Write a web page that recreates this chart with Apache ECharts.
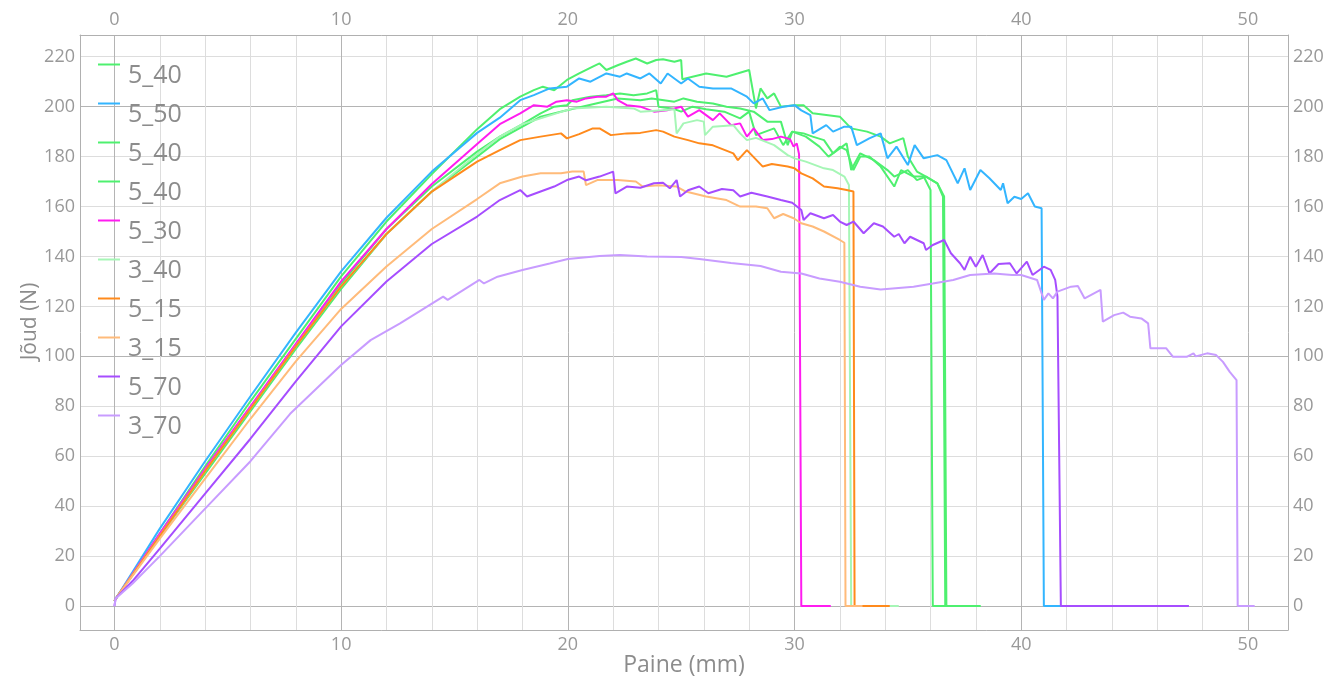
<!DOCTYPE html>
<html>
<head>
<meta charset="utf-8">
<script src="https://cdn.jsdelivr.net/npm/echarts@6/dist/echarts.min.js"></script>
<style>
html, body { margin: 0; padding: 0; background: #fff; }
#chart { width: 1343px; height: 679px; }
</style>
</head>
<body>
<div id="chart"></div>
<script>
// legend labels and colours, in drawing order
var labels = ['5_40', '5_50', '5_40', '5_40', '5_30', '3_40', '5_15', '3_15', '5_70', '3_70'];
var colors = ['#4ef06f', '#33b5ff', '#4ef06f', '#4ef06f', '#ff1cf0', '#a6f6b6', '#ff8a1c', '#ffbb7a', '#a64dff', '#c89cff'];

// tick values
var xMajor = [0, 10, 20, 30, 40, 50];
var xMinor = [0, 2, 4, 6, 8, 10, 12, 14, 16, 18, 20, 22, 24, 26, 28, 30, 32, 34, 36, 38, 40, 42, 44, 46, 48, 50];
var yTicks = [0, 20, 40, 60, 80, 100, 120, 140, 160, 180, 200, 220];

// curves: [Paine (mm), Jõud (N)]
var s540a = [[0,2],[0.1,3.5],[2,29],[4,56],[6,82],[8,107],[10,132],[12,154],[14,173],[16,191],[17,199],[17.9,204],[18.5,206.6],[18.9,208],[19.4,206.6],[19.96,210.7],[20.5,213.3],[21.1,216],[21.4,217.3],[21.7,214.7],[22.2,216.6],[22.6,218],[23.0,219.3],[23.5,217.3],[23.9,218.7],[24.2,219],[24.7,218],[25.0,218.7],[25.05,211],[25.5,212],[26.1,213.3],[27.0,212],[28.0,214.7],[28.3,199.3],[28.5,207.3],[28.8,203.3],[29.1,205.3],[29.4,200],[30.0,200.6],[30.4,200.6],[30.8,197.4],[32.0,196],[32.5,191.3],[33.2,190],[33.8,188],[34.2,185.3],[34.8,187.4],[35.0,180],[35.4,174],[35.8,172],[36.3,169.3],[36.6,164],[36.7,0],[38.2,0]];
var s550 = [[0,2],[0.1,3.5],[2,31],[4,58],[6,84],[8,109.5],[10,134],[12,155.5],[14,174],[16,189.5],[17,195.6],[17.9,202.6],[18.5,204.6],[19.2,207.3],[19.96,208],[20.5,211.3],[21.0,210],[21.7,213.3],[22.3,212],[22.6,213.3],[23.2,211.3],[23.6,213.3],[24.1,209.3],[24.4,213.3],[25.0,209.3],[25.3,211.3],[25.8,208],[26.4,207.3],[27.2,207.3],[27.9,204],[28.2,201.3],[28.6,203.3],[28.9,198.6],[29.5,200],[30.0,200.6],[30.3,198.5],[30.7,196.6],[30.8,189.3],[31.4,192.6],[31.7,190],[32.2,192],[32.5,192],[32.75,184.6],[33.3,187.3],[33.8,189.3],[34.1,179.3],[34.5,184],[35.0,176.6],[35.3,184.6],[35.7,179.3],[36.3,180.6],[36.7,178.6],[37.2,169.3],[37.5,175.3],[37.75,166.6],[38.2,174.6],[38.6,171.3],[39.1,166.6],[39.2,169.3],[39.4,161.3],[39.7,163.9],[40.0,163],[40.3,165.3],[40.6,160],[40.9,159.3],[41.0,0],[42.5,0]];
var s540b = [[0,2],[0.1,3.5],[2,28],[4,54],[6,79],[8,104],[10,129],[12,151],[14,168],[16,182],[17,188],[18,193],[18.8,197.3],[19.4,200],[19.96,200.6],[20.2,202.6],[21.0,204],[21.7,204.6],[22.3,205.3],[22.9,204.6],[23.5,205.3],[23.9,206.6],[24.0,200],[24.6,199.3],[25.0,198],[25.5,200],[26.1,199],[26.9,198],[27.6,195.3],[28.0,198],[28.3,188.6],[29.1,191.3],[29.5,184.6],[29.9,190],[30.4,189.3],[30.8,188],[31.3,186.6],[31.7,181.3],[32.0,184],[32.3,182.6],[32.6,174.6],[32.9,180],[33.3,180],[33.8,176],[34.4,168],[34.7,174.6],[35.25,172],[35.7,172],[36.0,166.6],[36.1,0],[38.2,0]];
var s540c = [[0,2],[0.1,3.5],[2,28],[4,53],[6,78],[8,103],[10,127],[12,149],[14,166],[16,180],[17,187],[18,192],[18.8,196],[19.96,198.6],[21.1,201],[22.2,203.3],[23.2,202.6],[23.7,203.3],[24.7,202],[25.1,203.3],[25.7,202],[26.4,201.3],[27.0,200],[27.6,199.3],[28.2,198],[28.8,194],[29.4,194],[29.7,184.6],[29.9,190],[30.5,188],[31.1,184],[31.5,180],[32.3,185.3],[32.5,174.6],[32.9,181.3],[33.5,178.6],[34.1,174.6],[34.4,172],[35.0,174.6],[35.4,170.6],[35.8,172],[36.3,169.3],[36.55,164],[36.65,0],[38.2,0]];
var s530 = [[0,2],[0.1,3.5],[2,29],[4,55],[6,80],[8,105],[10,130],[12,151],[14,169],[16,185],[17,193],[17.9,197.3],[18.5,200.6],[19.1,200],[19.5,202],[19.96,202.6],[20.4,202],[20.8,203.3],[21.3,204],[21.7,204],[22.0,205.3],[22.2,202.6],[22.6,200.6],[23.2,200],[23.8,198],[24.4,198.6],[25.0,200],[25.3,196],[25.8,198.6],[26.4,194.6],[26.7,197.3],[27.2,192.6],[27.6,193.3],[27.9,188],[28.2,191.3],[28.6,186.6],[29.0,187],[29.4,188],[29.8,187],[29.96,184],[30.1,185.3],[30.2,181],[30.3,0],[31.6,0]];
var s340 = [[0,2],[0.1,3.5],[2,28],[4,54],[6,79],[8,104],[10,128],[12,149],[14,166],[16,181],[17,188],[18,193],[18.8,195.3],[20.2,199.3],[21.7,200],[22.9,199.3],[23.2,198],[24.2,198.6],[24.7,199],[24.8,189.3],[25.1,193.3],[25.7,194.6],[26.0,194],[26.05,188.6],[26.4,192],[27.3,192.6],[27.6,189.3],[27.9,186.6],[28.3,187.5],[29.1,184.6],[29.7,180.6],[30.0,179.3],[30.5,178],[31.3,175.3],[31.7,174.6],[32.2,172],[32.4,168.6],[32.5,0],[34.6,0]];
var s515 = [[0,2],[0.1,3.5],[2,28],[4,54],[6,79],[8,104],[10,128],[12,149],[14,166],[16,178],[17,182.6],[17.9,186.6],[18.8,188],[19.7,189.3],[19.96,187.3],[20.5,189],[21.1,191.3],[21.4,191.3],[21.9,188.6],[22.6,189.3],[23.2,189.5],[23.9,190.6],[24.2,190],[24.7,188],[25.3,186.6],[25.8,185.3],[26.4,184.5],[27.3,181.3],[27.5,178.6],[27.9,182.6],[28.6,176],[29.0,177],[29.7,176],[30.0,175.3],[30.3,173.3],[30.8,171.3],[31.3,168],[31.9,167.3],[32.3,166.6],[32.6,166],[32.65,0],[34.2,0]];
var s315 = [[0,2],[0.1,3.5],[2,27],[4,51],[6,75],[8,98],[10,119],[12,136],[14,151],[16,163],[17,169.3],[18,172],[18.8,173.3],[19.7,173.3],[20.2,174],[20.7,174],[20.8,168.6],[21.3,170.6],[22.2,170.6],[23.0,170],[23.3,168],[24.0,168.5],[24.8,168],[25.2,166],[26.1,164],[27.0,162.6],[27.6,160],[28.3,160],[28.8,159.3],[29.1,155.3],[29.5,157],[29.96,155.3],[30.3,153.3],[30.8,152],[31.3,150],[32.0,146.6],[32.2,145.5],[32.25,0],[33.0,0]];
var s570 = [[0,0],[0.05,3],[0.8,10],[2,23],[4,45],[6,67],[8,90],[10,112],[12,130],[14,145],[16,156],[17,162.6],[17.9,166.6],[18.2,164],[18.8,166],[19.4,168],[19.96,170.6],[20.5,172],[20.8,170.5],[21.4,172],[22.0,174],[22.1,165.3],[22.6,168],[23.2,167.5],[23.8,169.3],[24.2,169.5],[24.5,167.3],[24.8,170.6],[24.95,164],[25.3,166.5],[25.8,168],[26.2,165.3],[26.8,167],[27.3,166.5],[27.6,164],[28.1,165.5],[28.8,164],[29.4,162.6],[29.9,161.5],[30.3,158.6],[30.4,154.6],[30.7,157.3],[31.3,155.3],[31.7,156.6],[32.0,154],[32.3,152.6],[32.6,154],[33.05,149.3],[33.5,153.3],[33.9,152],[34.4,147.9],[34.6,149],[34.85,145.3],[35.1,147.9],[35.7,145.3],[35.8,142.6],[36.1,144.6],[36.6,146.6],[36.9,141.3],[37.3,137.3],[37.5,134.6],[37.75,139.9],[38.0,135.9],[38.3,140.6],[38.6,133.2],[39.0,137],[39.5,137.3],[39.8,133.2],[40.25,137.9],[40.5,132.6],[41.0,135.9],[41.3,134.6],[41.5,130.6],[41.6,123.9],[41.75,0],[47.4,0]];
var s370 = [[0,0],[0.05,3],[0.8,9],[2,20],[4,39],[6,58],[7.75,77],[10,96.5],[11.3,106.5],[12.6,113.2],[14.5,123.9],[14.7,122.6],[16.1,130.6],[16.3,129.2],[16.9,131.9],[18.0,134.6],[19.2,137.2],[20.0,139],[21.4,140.2],[22.3,140.6],[23.5,140],[25.0,139.8],[25.8,139],[27.2,137.4],[28.5,136.2],[29.4,133.9],[30.3,133.2],[31.1,131.2],[32.0,129.9],[32.9,127.9],[33.8,126.8],[35.25,127.9],[36.1,129.2],[37.0,130.6],[37.75,132.6],[38.8,133.2],[39.6,132.6],[40.0,132.6],[40.7,130.6],[40.8,127.9],[41.0,122.6],[41.2,125.2],[41.4,123.2],[41.6,125.9],[42.2,127.9],[42.5,128.2],[42.8,123.2],[43.5,126.6],[43.6,113.9],[44.1,116.5],[44.5,117.5],[44.8,115.9],[45.3,115.2],[45.6,113.2],[45.7,103.2],[46.4,103.2],[46.7,99.8],[47.3,99.8],[47.6,101.2],[47.7,100],[48.2,101.2],[48.6,100.5],[48.9,97.8],[49.2,93.8],[49.5,90.5],[49.55,0],[50.3,0]];

var curves = [s540a, s550, s540b, s540c, s530, s340, s515, s315, s570, s370];

var font = '"Open Sans", "DejaVu Sans", sans-serif';
var axisColor = '#b0b0b0';
var gridColors = ['#b4b4b4', '#dddddd', '#dddddd', '#dddddd', '#dddddd'];
var tickFont = { fontSize: 18, color: '#999', fontFamily: font };

var myChart = echarts.init(document.getElementById('chart'));
var series_arr = [];
var legend_arr = [];
for (var i = 0; i < curves.length; i++) {
	// names must differ or the legend merges the three 5_40 rows
	var nm = labels[i] + '#' + i;
	legend_arr.push(nm);
	series_arr.push({
		name: nm,
		type: 'line',
		xAxisIndex: 0,
		yAxisIndex: 0,
		symbol: 'none',
		animation: false,
		lineStyle: { width: 2, color: colors[i] },
		itemStyle: { color: colors[i] },
		data: curves[i]
	});
}

var option = {
	backgroundColor: '#fff',
	textStyle: { fontFamily: font },
	grid: {
		left: 80,
		right: 55,
		top: 35,
		bottom: 49,
		containLabel: false,
		outerBoundsMode: 'none'
	},
	legend: {
		data: legend_arr,
		orient: 'vertical',
		left: 98,
		top: 41,
		padding: 0,
		itemGap: -8,
		itemWidth: 22,
		itemHeight: 2,
		icon: 'rect',
		formatter: function (name) { return '{t|' + name.split('#')[0] + '}'; },
		textStyle: {
			fontFamily: font,
			color: '#8c8c8c',
			rich: {
				t: {
					fontFamily: font,
					fontSize: 25,
					lineHeight: 26,
					color: '#8c8c8c',
					padding: [22, 0, 0, 3]
				}
			}
		}
	},
	xAxis: [{
		type: 'value',
		position: 'bottom',
		min: -1.52,
		max: 51.77,
		name: 'Paine (mm)',
		nameLocation: 'middle',
		nameGap: 24,
		nameMoveOverlap: false,
		nameTextStyle: { fontFamily: font, fontSize: 23, color: '#8c8c8c' },
		axisLine: { show: true, onZero: false, lineStyle: { color: axisColor } },
		axisTick: { show: false, customValues: xMinor },
		axisLabel: Object.assign({ customValues: xMajor, margin: 6 }, tickFont),
		splitLine: { show: true, lineStyle: { color: gridColors, width: 1 } }
	}, {
		type: 'value',
		position: 'top',
		min: -1.52,
		max: 51.77,
		axisLine: { show: true, onZero: false, lineStyle: { color: axisColor } },
		axisTick: { show: false },
		axisLabel: Object.assign({ customValues: xMajor, margin: 6 }, tickFont),
		splitLine: { show: false }
	}],
	yAxis: [{
		type: 'value',
		position: 'left',
		min: -9.6,
		max: 228.7,
		name: 'Jõud (N)',
		nameLocation: 'middle',
		nameGap: 39,
		nameMoveOverlap: false,
		nameTextStyle: { fontFamily: font, fontSize: 21, color: '#8c8c8c', padding: [0, 0, 0, 22] },
		axisLine: { show: true, onZero: false, lineStyle: { color: axisColor } },
		axisTick: { show: false, customValues: yTicks },
		axisLabel: Object.assign({ customValues: yTicks, margin: 5 }, tickFont),
		splitLine: { show: true, lineStyle: { color: gridColors, width: 1 } }
	}, {
		type: 'value',
		position: 'right',
		min: -9.6,
		max: 228.7,
		axisLine: { show: true, onZero: false, lineStyle: { color: axisColor } },
		axisTick: { show: false },
		axisLabel: Object.assign({ customValues: yTicks, margin: 5 }, tickFont),
		splitLine: { show: false }
	}],
	series: series_arr
};
myChart.setOption(option);
</script>
</body>
</html>
